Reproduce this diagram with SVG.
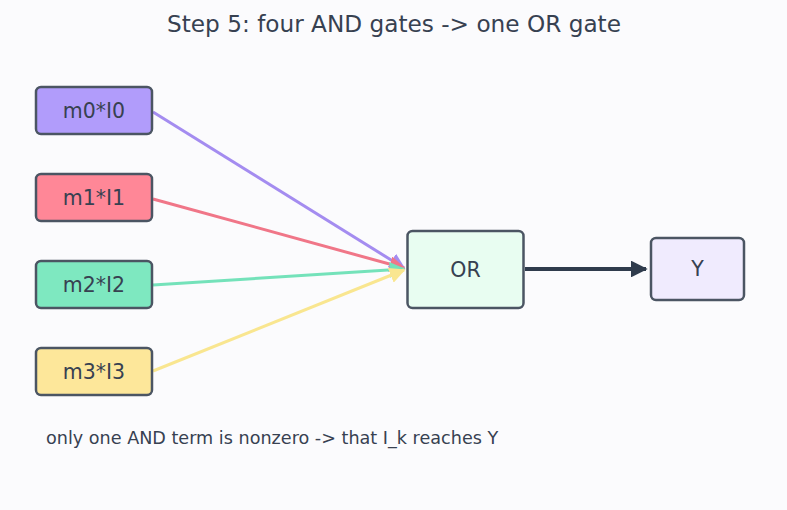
<svg xmlns="http://www.w3.org/2000/svg" width="787" height="510" viewBox="0 0 787 510">
<defs>
<style>
text{font-family:"DejaVu Sans","Liberation Sans",sans-serif;fill:#374151}
.node rect{stroke:#4b5563;stroke-width:2.5}
.lbl{font-size:20.5px;text-anchor:middle;dominant-baseline:central}
.e{fill:none;stroke-width:3}
</style>
<marker id="ap" viewBox="0 0 10 10" refX="9" refY="5" markerWidth="5.3" markerHeight="5.3" orient="auto" markerUnits="strokeWidth"><path d="M0,0L10,5L0,10z" fill="#a48cf0"/></marker>
<marker id="ar" viewBox="0 0 10 10" refX="9" refY="5" markerWidth="5.3" markerHeight="5.3" orient="auto" markerUnits="strokeWidth"><path d="M0,0L10,5L0,10z" fill="#f07688"/></marker>
<marker id="ag" viewBox="0 0 10 10" refX="9" refY="5" markerWidth="5.3" markerHeight="5.3" orient="auto" markerUnits="strokeWidth"><path d="M0,0L10,5L0,10z" fill="#74e2ba"/></marker>
<marker id="ay" viewBox="0 0 10 10" refX="9" refY="5" markerWidth="5.3" markerHeight="5.3" orient="auto" markerUnits="strokeWidth"><path d="M0,0L10,5L0,10z" fill="#f9e690"/></marker>
<marker id="ad" viewBox="0 0 10 10" refX="9" refY="5" markerWidth="4.2" markerHeight="4.2" orient="auto" markerUnits="strokeWidth"><path d="M0,0L10,5L0,10z" fill="#2f3b4c"/></marker>
</defs>
<rect width="787" height="510" fill="#fbfbfd"/>
<text x="394" y="32" font-size="23.2" text-anchor="middle">Step 5: four AND gates -&gt; one OR gate</text>
<g id="connectors">
<line class="e" x1="153" y1="112" x2="404" y2="268" stroke="#a48cf0" marker-end="url(#ap)"/>
<line class="e" x1="153" y1="199" x2="404" y2="268" stroke="#f07688" marker-end="url(#ar)"/>
<line class="e" x1="153" y1="285" x2="404" y2="269" stroke="#74e2ba" marker-end="url(#ag)"/>
<line class="e" x1="153" y1="371" x2="404" y2="270" stroke="#f9e690" marker-end="url(#ay)"/>
<line x1="525" y1="269" x2="646" y2="269" stroke="#2f3b4c" stroke-width="4" marker-end="url(#ad)"/>
</g>
<g id="m0" class="node"><rect x="36" y="87" width="116" height="47" rx="5" fill="#b19cfb"/><text class="lbl" x="94" y="111">m0*I0</text></g>
<g id="m1" class="node"><rect x="36" y="174" width="116" height="47" rx="5" fill="#ff8797"/><text class="lbl" x="94" y="198">m1*I1</text></g>
<g id="m2" class="node"><rect x="36" y="261" width="116" height="47" rx="5" fill="#7ee8c0"/><text class="lbl" x="94" y="285">m2*I2</text></g>
<g id="m3" class="node"><rect x="36" y="348" width="116" height="47" rx="5" fill="#fde79a"/><text class="lbl" x="94" y="372">m3*I3</text></g>
<g id="or" class="node"><rect x="407.5" y="231" width="116" height="77" rx="5" fill="#e8fdf1"/><text class="lbl" x="465.5" y="269.5">OR</text></g>
<g id="y" class="node"><rect x="651" y="238" width="93" height="62" rx="5" fill="#f0ebfe"/><text class="lbl" x="697.5" y="269">Y</text></g>
<text x="46" y="444" font-size="17.6">only one AND term is nonzero -&gt; that I_k reaches Y</text>
</svg>
